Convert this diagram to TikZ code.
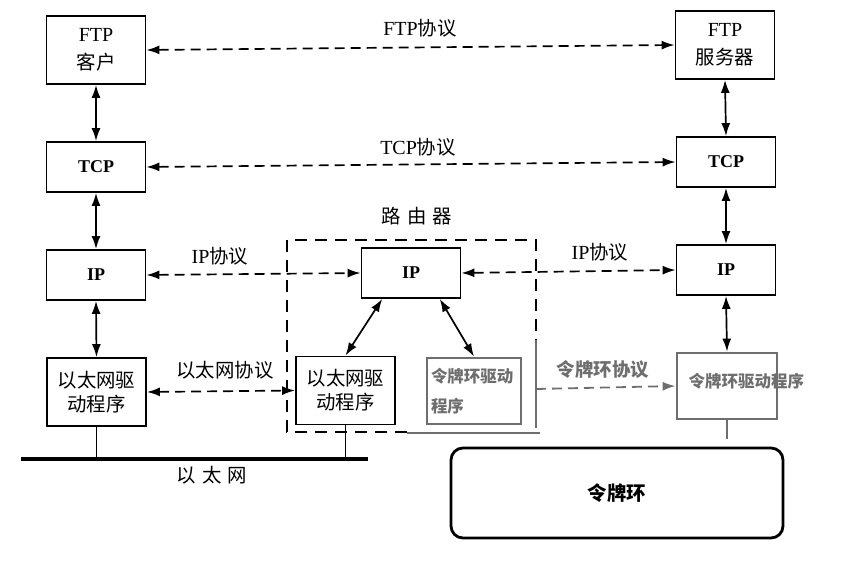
\documentclass[tikz,border=0pt]{standalone}
\usepackage{fontspec}
\setmainfont{Liberation Serif}
\newfontfamily\cjk[Scale=0.97]{Noto Sans CJK SC}
\usepackage{tikz}
\usetikzlibrary{arrows.meta}
\definecolor{trgray}{HTML}{6E6E6E}
\newcommand{\zh}[1]{{\cjk #1}}

\begin{document}
\begin{tikzpicture}[
  x=0.5pt, y=-0.5pt, font=\fontsize{10}{14}\selectfont,
  box/.style={draw, line width=0.9pt, minimum width=49.5pt, align=center, inner sep=1pt},
  tall/.style={box, minimum height=34pt},
  flat/.style={box, minimum height=25pt, font=\fontsize{9}{11}\selectfont\bfseries},
  drv/.style={box, minimum height=34pt, font=\fontsize{10}{12}\selectfont},
  grbox/.style={draw=trgray, line width=1.4pt, text=trgray, minimum width=47pt, minimum height=33pt, inner sep=2pt},
  grtext/.style={text=trgray, font=\fontsize{8.5}{15}\selectfont\cjk\bfseries},
  ring/.style={draw, line width=1.4pt, rounded corners=6pt, minimum width=166pt, minimum height=45pt, font=\fontsize{10}{12}\selectfont\cjk\bfseries},
  dbl/.style={{Latex[length=6.5pt,width=4.5pt]}-{Latex[length=6.5pt,width=4.5pt]}, line width=0.85pt},
  proto/.style={dbl, dash pattern=on 5pt off 3pt},
  lbl/.style={inner sep=0pt}
]
\useasboundingbox (0,0) rectangle (861,576);

\node[tall] (ftpc) at (96,50) {FTP\\\zh{客户}};
\node[flat] (tcpl) at (96,167) {TCP};
\node[flat] (ipl) at (96,275) {IP};
\node[drv] (ethl) at (96.5,392) {\zh{以太网驱}\\\zh{动程序}};

\node[tall] (ftps) at (725,45) {FTP\\\zh{服务器}};
\node[flat] (tcpr) at (726,162) {TCP};
\node[flat] (ipr) at (726,270) {IP};
\node[grbox, minimum width=50pt,
  label={[grtext, anchor=west, xshift=3pt, yshift=2.5pt]180:令牌环驱动程序}] (trr) at (727,386) {};

\node[flat] (ipm) at (411,273) {IP};
\node[drv] (ethm) at (345.5,390.5) {\zh{以太网驱}\\\zh{动程序}};
\node[grbox, grtext, text width=43pt, align=left] (trm) at (474,391) {令牌环驱动\\程序};

\node[ring] (ring) at (617,493) {令牌环\hspace{24pt}};

\draw[line width=0.9pt, dash pattern=on 6pt off 4pt]
  (407,432) -- (287,432) -- (287,240) -- (536,240) -- (536,340);
\draw[trgray, line width=1.3pt] (536,340) -- (536,428);
\draw[trgray, line width=1.3pt] (407,433) -- (540,433);
\node[lbl] (rtr) at (417,216) {\zh{路\hspace{3pt}由\hspace{3pt}器}};

\draw[proto] (ftpc.east) -- (ftps.west);
\draw[proto] (tcpl.east) -- (tcpr.west);
\draw[proto] (ipl.east) -- (ipm.west);
\draw[proto] (ipm.east) -- (ipr.west);
\draw[proto] (ethl.east) -- (ethm.west);
\coordinate (trs) at (536,389);
\draw[trgray, line width=0.9pt, dash pattern=on 5pt off 3pt, -{Latex[length=6.5pt,width=4.5pt]}] (trs) -- (trr.west);

\node[lbl] (lftp) at (420,28) {FTP\zh{协议}};
\node[lbl] (ltcp) at (418,147) {TCP\zh{协议}};
\node[lbl] (lipl) at (220,256) {IP\zh{协议}};
\node[lbl] (lipr) at (600,252) {IP\zh{协议}};
\node[lbl] (leth) at (225,370) {\zh{以太网协议}};
\node[lbl, grtext, font=\fontsize{9.5}{11}\selectfont\cjk\bfseries] (ltr) at (603,370) {令牌环协议};

\draw[dbl] (ftpc.south) -- (tcpl.north);
\draw[dbl] (tcpl.south) -- (ipl.north);
\draw[dbl] (ipl.south) -- (ethl.north);
\draw[dbl] (ftps.south) -- (tcpr.north);
\draw[dbl] (tcpr.south) -- (ipr.north);
\draw[dbl] (ipr.south) -- (trr.north);
\draw[dbl] (ipm.222) -- (ethm.north);
\draw[dbl] (ipm.318) -- (trm.north);

\coordinate (busl) at (21,459);
\coordinate (busr) at (368,459);
\draw[line width=2pt] (busl) -- (busr);
\draw[line width=0.7pt] (ethl.south) -- (ethl.south |- busl);
\draw[line width=0.7pt] (ethm.south) -- (ethm.south |- busl);
\node[lbl] (leth2) at (212,475) {\zh{以\hspace{3pt}太\hspace{3pt}网}};
\draw[trgray, line width=1.3pt] (trr.south) -- ++(0,19);
\end{tikzpicture}
\end{document}
